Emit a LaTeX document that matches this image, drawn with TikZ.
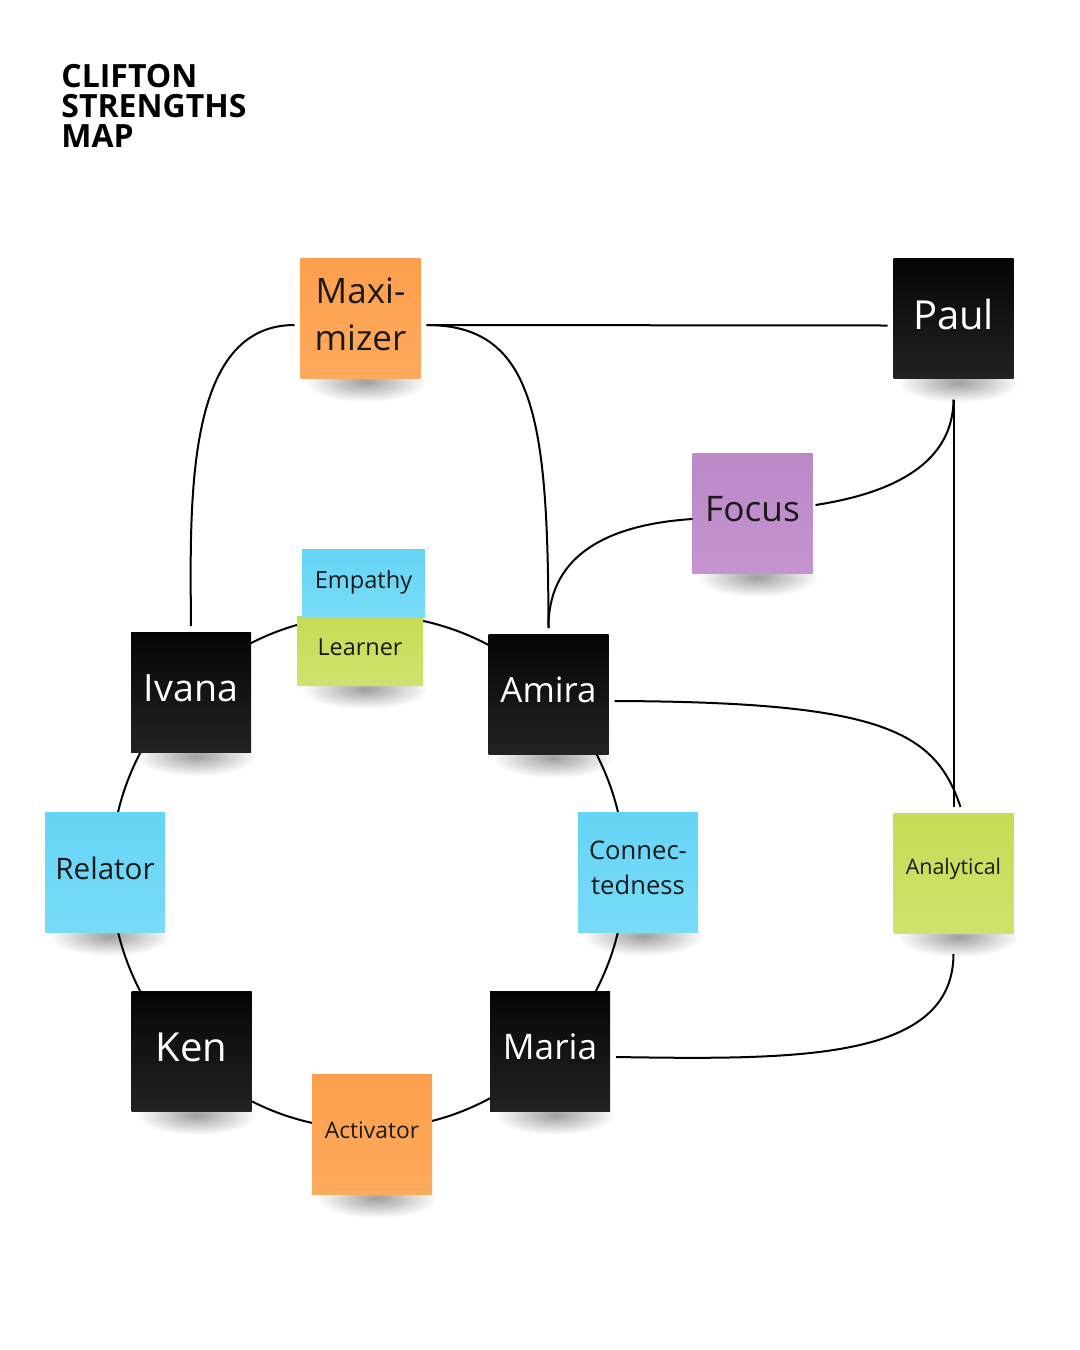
\documentclass[tikz,border=0pt]{standalone}
\usepackage{fontspec}
\setmainfont{Open Sans}
\usetikzlibrary{calc}
\pgfdeclarelayer{background}
\pgfdeclarelayer{shadowlayer}
\pgfdeclarelayer{ringlayer}
\pgfsetlayers{background,shadowlayer,ringlayer,main}
\definecolor{nOrange}{HTML}{FD9F4C}
\definecolor{nOrangeL}{HTML}{FEAA5E}
\definecolor{nBlue}{HTML}{66D4F6}
\definecolor{nBlueL}{HTML}{78DBF8}
\definecolor{nGreen}{HTML}{C7DB56}
\definecolor{nGreenL}{HTML}{D0E26C}
\definecolor{nPurple}{HTML}{BC88C8}
\definecolor{nPurpleL}{HTML}{C594D0}
\definecolor{nBlack}{HTML}{050505}
\definecolor{nBlackL}{HTML}{222222}
\definecolor{nText}{HTML}{1A1A1A}
\newcommand{\noteshadow}[1]{%
  \begin{pgfonlayer}{shadowlayer}
    \shade[inner color=black!38, outer color=white]
      ($(#1.south west)+(10,-22)$) rectangle ($(#1.south east)+(0,18)$);
  \end{pgfonlayer}}
\begin{document}
\begin{tikzpicture}[x=0.5pt,y=-0.5pt,
  note/.style={minimum width=60pt, minimum height=60pt, inner sep=0pt, outer sep=3pt},
  orangenote/.style={note, top color=nOrange, bottom color=nOrangeL},
  bluenote/.style={note, top color=nBlue, bottom color=nBlueL},
  greennote/.style={note, top color=nGreen, bottom color=nGreenL},
  purplenote/.style={note, top color=nPurple, bottom color=nPurpleL},
  person/.style={note, top color=nBlack, bottom color=nBlackL},
  txt/.style={inner sep=0pt, align=center, text=nText, yshift=2pt},
  wtxt/.style={txt, text=white},
  link/.style={draw=black, line width=1pt}
]
\begin{pgfonlayer}{background}
\useasboundingbox[fill=white] (0,0) rectangle (1080,1350);
\end{pgfonlayer}

% title
\node[anchor=north west, inner sep=0pt, align=left,
  font=\bfseries\fontsize{16}{15}\selectfont] (title) at (61,64)
  {CLIFTON\\STRENGTHS\\MAP};

% notes
\node[orangenote, label={[txt, font=\fontsize{17.5}{23.5}\selectfont]center:{Maxi-\\mizer}}] (maxi) at (360.5,318) {};
\node[person, label={[wtxt, font=\fontsize{20}{22}\selectfont]center:Paul}] (paul) at (953.5,318.5) {};
\node[purplenote, label={[txt, font=\fontsize{17.6}{20}\selectfont]center:Focus}] (focus) at (752.5,513) {};
\node[greennote, minimum width=63pt, minimum height=34.5pt, label={[txt, yshift=-0.5pt, font=\fontsize{11.7}{14}\selectfont]center:Learner}] (learner) at (360,650.5) {};
\node[bluenote, minimum width=61.5pt, minimum height=34pt, label={[txt, yshift=-1.5pt, font=\fontsize{11.8}{14}\selectfont]center:Empathy}] (empathy) at (363.5,583) {};
\node[person, label={[wtxt, font=\fontsize{18.8}{22}\selectfont]center:Ivana}] (ivana) at (191,692) {};
\node[person, label={[wtxt, font=\fontsize{17.4}{22}\selectfont]center:Amira}] (amira) at (548.5,694) {};
\node[bluenote, label={[txt, font=\fontsize{14.8}{18}\selectfont]center:Relator}] (relator) at (105,872) {};
\node[bluenote, label={[txt, font=\fontsize{12.8}{17.5}\selectfont]center:{Connec-\\tedness}}] (conn) at (638,872) {};
\node[greennote, label={[txt, font=\fontsize{10.7}{13}\selectfont]center:Analytical}] (ana) at (953.5,873) {};
\node[person, label={[wtxt, font=\fontsize{20}{22}\selectfont]center:Ken}] (ken) at (191.5,1051) {};
\node[person, label={[wtxt, font=\fontsize{17.6}{22}\selectfont]center:Maria}] (maria) at (550,1051) {};
\node[orangenote, label={[txt, font=\fontsize{11.4}{14}\selectfont]center:Activator}] (activ) at (372,1134) {};

\foreach \n in {maxi,paul,focus,learner,empathy,ivana,amira,relator,conn,ana,ken,maria,activ}
  {\noteshadow{\n}}

% ring behind the notes
\begin{pgfonlayer}{ringlayer}
\coordinate (ring) at (368,872);
\draw[link] (ring) circle[radius=257];
\end{pgfonlayer}

% connectors
\draw[link] ($(maxi.west)+(0,7)$) .. controls (185,325) and (190,500) .. (ivana.north);
\draw[link] ($(maxi.east)+(0,7)$) .. controls (535,325) and (548,420) .. (amira.north);
\draw[link] ($(maxi.east)+(0,7)$) -- ($(paul.west)+(0,7)$);
\draw[link] ($(paul.south)+(0,15)$) -- (ana.north);
\draw[link] ($(paul.south)+(0,15)$) .. controls (953,470) and (880,495) .. ($(focus.east)+(-3,-8)$);
\draw[link] ($(focus.west)+(6,6)$) .. controls (600,525) and (548,560) .. (amira.north);
\draw[link] ($(amira.east)+(0,7)$) .. controls (880,702) and (935,730) .. ($(ana.north)+(7,0)$);
\draw[link] ($(ana.south)+(0,15)$) .. controls (953,1060) and (800,1060) .. ($(maria.east)+(0,6)$);
\end{tikzpicture}
\end{document}
